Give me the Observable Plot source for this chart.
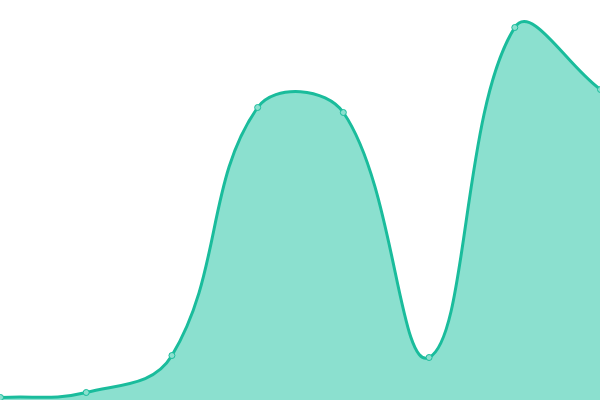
<!DOCTYPE html>
<html><head><meta charset="utf-8">
<script src="https://cdn.jsdelivr.net/npm/d3@7"></script>
<script src="https://cdn.jsdelivr.net/npm/@observablehq/plot@0.6"></script>
<style>body{margin:0;background:#fff}</style>
</head><body><div id="chart"></div>
<script>
const xs = [0, 1, 2, 3, 4, 5, 6, 7];
const values = [3, 8, 45, 293, 288, 43, 373, 311];
const data = xs.map((x, i) => ({x, y: values[i]}));
const lineColor = "#1abc9c";
const fillColor = "#8be0cf";

// Distance-weighted spline (tension 0.4), in screen space
function SplineCurve(context, t) { this._context = context; this._t = t; }
SplineCurve.prototype = {
  areaStart() { this._line = 0; },
  areaEnd() { this._line = NaN; },
  lineStart() { this._x = []; this._y = []; },
  point(x, y) { this._x.push(+x); this._y.push(+y); },
  lineEnd() {
    const x = this._x, y = this._y, n = x.length, ctx = this._context, t = this._t;
    if (n) {
      this._line ? ctx.lineTo(x[0], y[0]) : ctx.moveTo(x[0], y[0]);
      if (n === 2) ctx.lineTo(x[1], y[1]);
      else if (n > 2) {
        const cpPrev = [], cpNext = [];
        for (let i = 0; i < n; i++) {
          const p = Math.max(0, i - 1), q = Math.min(n - 1, i + 1);
          const d01 = Math.hypot(x[i] - x[p], y[i] - y[p]);
          const d12 = Math.hypot(x[q] - x[i], y[q] - y[i]);
          let s01 = d01 / (d01 + d12), s12 = d12 / (d01 + d12);
          if (!isFinite(s01)) s01 = 0;
          if (!isFinite(s12)) s12 = 0;
          const fa = t * s01, fb = t * s12;
          cpPrev[i] = [x[i] - fa * (x[q] - x[p]), y[i] - fa * (y[q] - y[p])];
          cpNext[i] = [x[i] + fb * (x[q] - x[p]), y[i] + fb * (y[q] - y[p])];
        }
        for (let i = 0; i < n - 1; i++) {
          ctx.bezierCurveTo(cpNext[i][0], cpNext[i][1], cpPrev[i + 1][0], cpPrev[i + 1][1], x[i + 1], y[i + 1]);
        }
      }
    }
    if (this._line || (this._line !== 0 && n === 1)) ctx.closePath();
    this._line = 1 - this._line;
    this._x = this._y = null;
  }
};
const spline = (context) => new SplineCurve(context, 0.4);

const chart = Plot.plot({
  width: 600, height: 400,
  margin: 0,
  x: {domain: [0, 7], range: [0, 600], axis: null},
  y: {domain: [0, 400], range: [400, 0], axis: null},
  marks: [
    Plot.areaY(data, {x: "x", y: "y", fill: fillColor, curve: spline}),
    Plot.line(data, {x: "x", y: "y", stroke: lineColor, strokeWidth: 3, curve: spline}),
    Plot.dot(data, {x: "x", y: "y", r: 3, fill: fillColor, stroke: lineColor, strokeWidth: 1})
  ]
});
document.getElementById("chart").appendChild(chart);
</script></body></html>
